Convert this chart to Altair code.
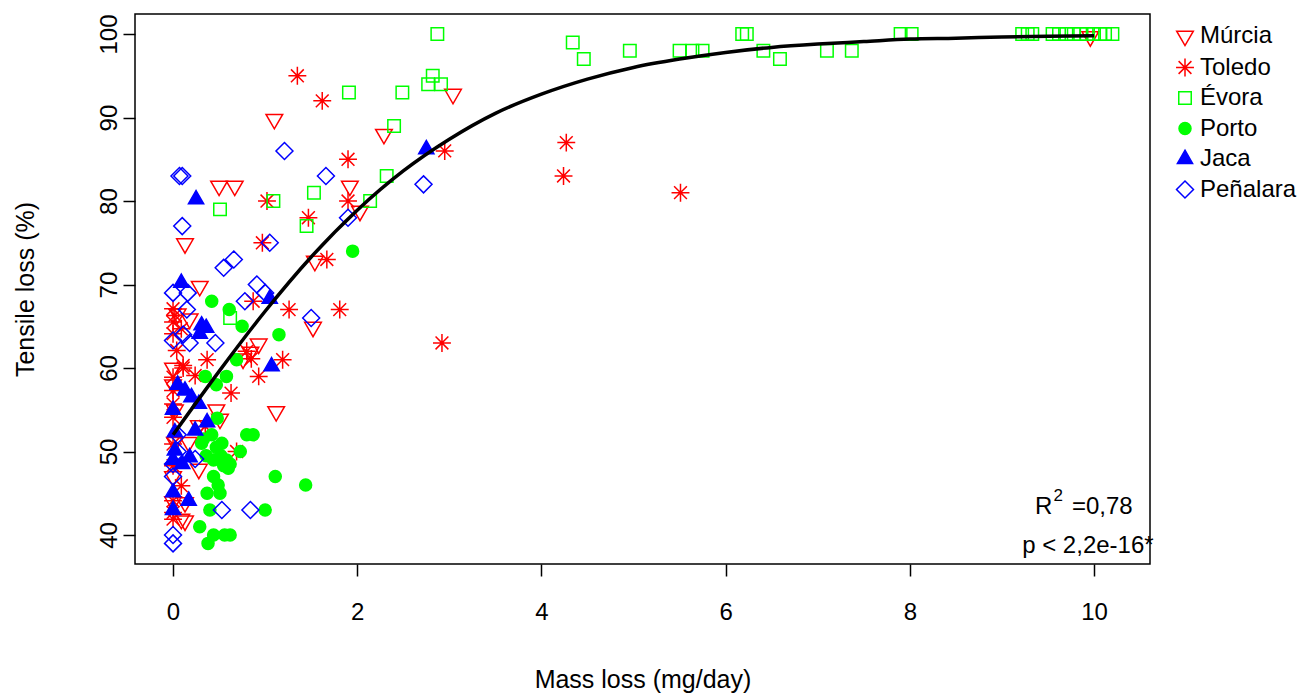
import altair as alt
import pandas as pd

FONT = "Liberation Sans"

sites = ["Múrcia", "Toledo", "Évora", "Porto", "Jaca", "Peñalara"]

murcia_x = [9.96, 3.04, 1.10, 2.29, 0.50, 0.67, 1.92, 2.03, 0.13, 1.54, 0.29, 0.18, 1.52, 0.93, 0.84,
            0.76, 1.12, 0.47, 0.51, 0.28, 0.17, 0.02, 0.28, 0.13, 0.13, 0.09, 0.0, 0.0, 0.02, 0.0, 0.0, 0.05]
murcia_y = [99.7, 92.8, 89.8, 88.0, 81.8, 81.8, 81.8, 78.8, 74.9, 72.8, 69.8, 65.9, 64.9, 62.9, 61.9,
            61.1, 54.8, 55.0, 53.9, 53.1, 51.1, 51.1, 47.9, 43.9, 41.7, 41.9, 60.0, 58.0, 55.0, 47.0, 44.0, 66.5]

toledo_x = [1.35, 1.62, 2.95, 4.27, 4.24, 5.51, 1.90, 1.02, 1.90, 1.47, 0.97, 1.67, 0.87, 1.26, 1.81,
            2.92, 0.80, 0.85, 1.19, 0.93, 0.63, 0.69, 0.35, 0.37, 0.24, 0.11, 0.0, 0.02, 0.0, 0.09,
            0.0, 0.04, 0.11, 0.0, 0.0, 0.0, 0.0, 0.0, 0.0, 0.09, 0.0, 0.0, 0.0]
toledo_y = [95.0, 92.0, 86.0, 87.0, 83.0, 81.0, 85.0, 80.0, 80.0, 78.0, 75.0, 73.0, 68.0, 67.0, 67.0,
            63.0, 62.0, 61.1, 61.0, 59.0, 57.0, 50.0, 53.0, 61.0, 59.1, 60.0, 67.1, 66.3, 65.5, 64.7,
            64.1, 62.1, 60.3, 58.9, 57.3, 55.7, 54.1, 50.9, 48.3, 45.9, 44.1, 42.7, 41.9]

evora_x = [2.87, 2.82, 2.77, 2.91, 1.91, 2.49, 2.40, 2.32, 1.53, 2.14, 1.09, 0.51, 1.45, 0.62,
           4.34, 4.46, 4.96, 5.50, 5.64, 5.75, 6.18, 6.23, 6.41, 6.59, 7.10, 7.37, 7.90, 8.02,
           9.22, 9.28, 9.33, 9.55, 9.62, 9.70, 9.78, 9.85, 9.92, 10.0, 10.07, 10.12, 10.2]
evora_y = [100, 95, 94, 94, 93, 93, 89, 83, 81, 80, 80, 79, 77, 66,
           99, 97, 98, 98, 98, 98, 100, 100, 98, 97, 98, 98, 100, 100,
           100, 100, 100, 100, 100, 100, 100, 100, 100, 100, 100, 100, 100]

porto_x = [1.95, 0.42, 0.61, 0.75, 1.15, 0.69, 0.35, 0.58, 0.47, 0.48, 0.80, 0.87, 0.73, 0.31, 0.53,
           0.44, 0.55, 0.60, 0.44, 1.11, 1.44, 0.49, 0.37, 0.51, 0.40, 1.00, 0.29, 0.44, 0.56, 0.62,
           0.38, 0.33, 0.42, 0.52, 0.58, 0.47, 0.36, 0.62]
porto_y = [74, 68, 67, 65, 64, 61, 59, 59, 58, 54, 52, 52, 50, 51, 51,
           49, 48.3, 48, 47, 47, 46, 46, 45, 45, 43, 43, 41, 40, 40, 40,
           39, 51.5, 52, 49.5, 49, 50.5, 49.5, 48.5]

jaca_x = [2.75, 0.25, 0.09, 1.05, 0.31, 0.36, 0.29, 1.07, 0.13, 0.20, 0.28, 0.37, 0.24, 0.02, 0.02,
          0.18, 0.0, 0.17, 0.0, 0.05, 0.0, 0.10, 0.0]
jaca_y = [86.2, 80.2, 70.2, 68.3, 65.1, 64.8, 64.1, 60.2, 57.3, 56.5, 55.7, 53.5, 52.5, 52.3, 50.1,
          49.3, 45.1, 44.1, 55.0, 58.0, 49.0, 48.5, 43.0]

penalara_x = [2.72, 1.21, 0.07, 0.10, 1.66, 0.10, 1.90, 1.05, 0.55, 0.66, 0.0, 0.16, 0.91, 1.0, 0.78,
              1.50, 0.15, 0.11, 0.18, 0.46, 0.0, 0.24, 0.0, 0.0, 0.53, 0.84, 0.0, 0.0, 0.05, 0.05]
penalara_y = [82, 86, 83, 83, 83, 77, 78, 75, 72, 73, 69, 69, 70, 69, 68,
              66, 67, 64, 63, 63, 63.3, 49.1, 47, 48.5, 43, 43, 40, 39, 52, 50]

# fitted curve
curve_x = [0, 0.5, 1, 1.5, 2, 2.5, 3, 3.5, 4, 4.5, 5, 5.5, 6, 6.5, 7, 7.5, 8, 8.5, 9, 9.5, 10]
curve_y = [52.0, 59.6, 66.8, 73.3, 78.9, 83.6, 87.4, 90.5, 92.8, 94.6, 96.0, 97.0, 97.8, 98.4, 98.8,
           99.1, 99.4, 99.5, 99.65, 99.75, 99.8]

x_ticks = [0, 2, 4, 6, 8, 10]
y_ticks = [40, 50, 60, 70, 80, 90, 100]

series = [("Múrcia", murcia_x, murcia_y), ("Toledo", toledo_x, toledo_y), ("Évora", evora_x, evora_y),
          ("Porto", porto_x, porto_y), ("Jaca", jaca_x, jaca_y), ("Peñalara", penalara_x, penalara_y)]
rows = []
for name, xs, ys in series:
    for a, b in zip(xs, ys):
        rows.append({"site": name, "mass": a, "tensile": b})
df = pd.DataFrame(rows)
curve_df = pd.DataFrame({"mass": curve_x, "tensile": curve_y})

tri_down = "M-1.04,-0.6L1.04,-0.6L0,1.2Z"
asterisk = "M-1.12,0L1.12,0M0,-1.12L0,1.12M-0.8,-0.8L0.8,0.8M-0.8,0.8L0.8,-0.8"
square = "M-0.78,-0.78L0.78,-0.78L0.78,0.78L-0.78,0.78Z"
circle = "M-0.75,0A0.75,0.75,0,1,0,0.75,0A0.75,0.75,0,1,0,-0.75,0Z"
tri_up = "M0,-1.1L0.95,0.55L-0.95,0.55Z"
diamond = "M0,-1.06L1.06,0L0,1.06L-1.06,0Z"

shapes = [tri_down, asterisk, square, circle, tri_up, diamond]
strokes = ["#FF0000", "#FF0000", "#00FF00", "#00FF00", "#0000FF", "#0000FF"]
fills = ["transparent", "transparent", "transparent", "#00FF00", "#0000FF", "transparent"]

xscale = alt.Scale(domain=[-0.413, 10.608], nice=False, zero=False)
yscale = alt.Scale(domain=[36.53, 102.4], nice=False, zero=False)

legend = alt.Legend(title=None, orient="none", legendX=1038, legendY=10, labelFont=FONT,
                    labelFontSize=24, labelColor="black", symbolSize=256, symbolStrokeWidth=1.5,
                    labelOffset=3, rowPadding=6.5, padding=0)

x_axis = alt.Axis(values=x_ticks, format="d", tickSize=12, tickWidth=1.5, tickColor="black",
                  domain=False, grid=False,
                  labelFont=FONT, labelFontSize=24, labelColor="black", labelPadding=24,
                  labelFlush=False, labelOverlap=False, titleFont=FONT, titleFontSize=25,
                  titleFontWeight="normal", titleColor="black", titleY=123, titleBaseline="alphabetic")
y_axis = alt.Axis(values=y_ticks, format="d", tickSize=12, tickWidth=1.5, tickColor="black",
                  domain=False, grid=False,
                  labelFont=FONT, labelFontSize=24, labelColor="black", labelPadding=2,
                  labelAngle=270, labelAlign="center", labelBaseline="bottom",
                  labelFlush=False, labelOverlap=False, titleFont=FONT, titleFontSize=25,
                  titleFontWeight="normal", titleColor="black", titleX=-110, titleY=275,
                  titleAlign="center", titleBaseline="middle")

points = alt.Chart(df).mark_point(filled=False, opacity=1, size=256, strokeWidth=1.5).encode(
    x=alt.X("mass:Q", scale=xscale, axis=x_axis, title="Mass loss (mg/day)"),
    y=alt.Y("tensile:Q", scale=yscale, axis=y_axis, title="Tensile loss (%)"),
    stroke=alt.Stroke("site:N", scale=alt.Scale(domain=sites, range=strokes), legend=legend),
    fill=alt.Fill("site:N", scale=alt.Scale(domain=sites, range=fills), legend=legend),
    shape=alt.Shape("site:N", scale=alt.Scale(domain=sites, range=shapes), legend=legend),
)

curve = alt.Chart(curve_df).mark_line(color="black", strokeWidth=3.5, interpolate="monotone").encode(
    x="mass:Q", y="tensile:Q")

# annotations
ann_big = pd.DataFrame({"mass": [9.36, 9.76, 9.22], "tensile": [42.5, 42.5, 37.84],
                        "label": ["R", "=0,78", "p < 2,2e-16*"]})
ann_sup = pd.DataFrame({"mass": [9.56], "tensile": [44.1], "label": ["2"]})

t_big = alt.Chart(ann_big).mark_text(align="left", baseline="alphabetic", font=FONT, fontSize=24,
                                     color="black").encode(x="mass:Q", y="tensile:Q", text="label:N")
t_sup = alt.Chart(ann_sup).mark_text(align="left", baseline="alphabetic", font=FONT, fontSize=17,
                                     color="black").encode(x="mass:Q", y="tensile:Q", text="label:N")

chart = alt.layer(points, curve, t_big, t_sup).properties(
    width=1015, height=550,
    padding={"left": 127, "top": 6, "right": 154, "bottom": 129},
    autosize=alt.AutoSizeParams(type="none"),
).configure_view(stroke="black", strokeWidth=1.5)

chart.save("out.html", embed_options={"renderer": "svg", "actions": False})
